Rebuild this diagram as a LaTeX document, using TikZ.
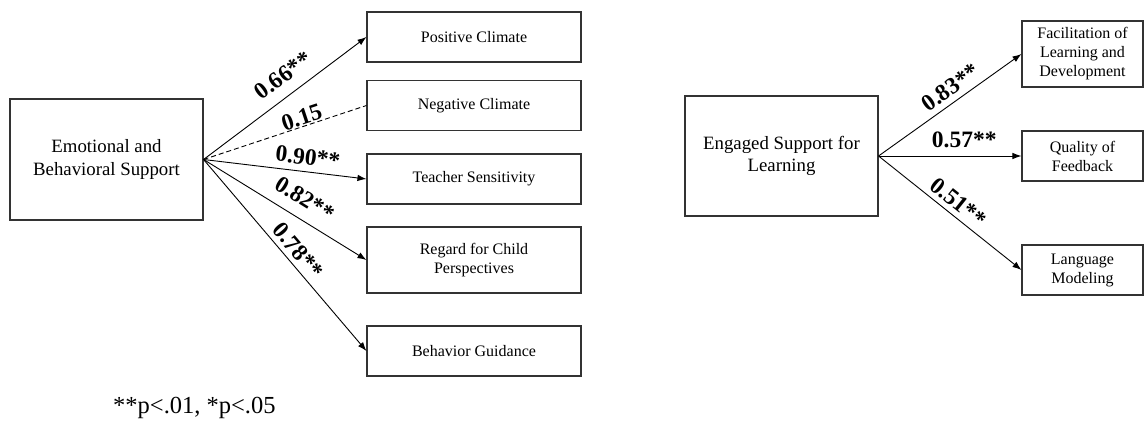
\documentclass[tikz,border=0pt]{standalone}
\usepackage{fontspec}
\setmainfont{Liberation Serif}
\usetikzlibrary{arrows.meta}
\tikzset{
	bigbox/.style={draw=black!80, line width=1.1pt, minimum width=193pt, minimum height=121pt, align=center, inner sep=2pt, font=\rmfamily\fontsize{18.8}{22.5}\selectfont},
	smallbox/.style={draw=black!80, line width=1.1pt, minimum width=214pt, minimum height=50pt, align=center, inner sep=2pt, font=\rmfamily\fontsize{16}{19}\selectfont},
	link/.style={line width=0.9pt, -{Latex[length=9pt,width=6.5pt]}},
	coef/.style={sloped, inner sep=0pt, font=\rmfamily\fontsize{23.5}{26}\selectfont\bfseries}
}

\begin{document}
\begin{tikzpicture}[x=1pt, y=-1pt]
			%%%%% START %%%%%
			\useasboundingbox (0,0) rectangle (1144,427);
			
			% emotional and behavioral support
			\node[bigbox] (ebs) at (106.5,159.5) {Emotional and\\Behavioral Support};
			\node[smallbox] (pc) at (474,37) {Positive Climate};
			\node[smallbox] (nc) at (474,105.5) {Negative Climate};
			\node[smallbox] (ts) at (474,179) {Teacher Sensitivity};
			\node[smallbox, minimum height=66pt] (rcp) at (474,260) {Regard for Child\\Perspectives};
			\node[smallbox] (bg) at (474,351) {Behavior Guidance};
			
			\draw[link] (ebs.east) -- node[coef, pos=0.56, above=19.4pt, anchor=center] {0.66**} (pc.west);
			\draw[line width=0.9pt, dash pattern=on 5pt off 3pt] (ebs.east) -- node[coef, pos=0.62, above=9.2pt, anchor=center] {0.15} (nc.west);
			\draw[link] (ebs.east) -- node[coef, pos=0.63, above=14.7pt, anchor=center] {0.90**} (ts.west);
			\draw[link] (ebs.east) -- node[coef, pos=0.56, above=20pt, anchor=center] {0.82**} (rcp.west);
			\draw[link] (ebs.east) -- node[coef, pos=0.52, above=13.2pt, anchor=center] {0.78**} (bg.west);
			
			% engaged support for learning
			\node[bigbox, minimum height=120pt] (esl) at (781.5,156) {Engaged Support for\\Learning};
			\node[smallbox, minimum width=121pt, minimum height=66pt] (fld) at (1082.5,54) {Facilitation of\\Learning and\\Development};
			\node[smallbox, minimum width=121pt] (qf) at (1082.5,156) {Quality of\\Feedback};
			\node[smallbox, minimum width=121pt] (lm) at (1082.5,270) {Language\\Modeling};
			
			\draw[link] (esl.east) -- node[coef, pos=0.56, above=14.1pt, anchor=center] {0.83**} (fld.west);
			\draw[link] (esl.east) -- node[coef, pos=0.6, above=16pt, anchor=center] {0.57**} (qf.west);
			\draw[link] (esl.east) -- node[coef, pos=0.5, above=13.6pt, anchor=center] {0.51**} (lm.west);
			
			\node[anchor=west, inner sep=0pt, font=\rmfamily\fontsize{24.5}{28}\selectfont] (note) at (113,408) {**p<.01, *p<.05};
			%%%%% END %%%%%
\end{tikzpicture}
\end{document}
